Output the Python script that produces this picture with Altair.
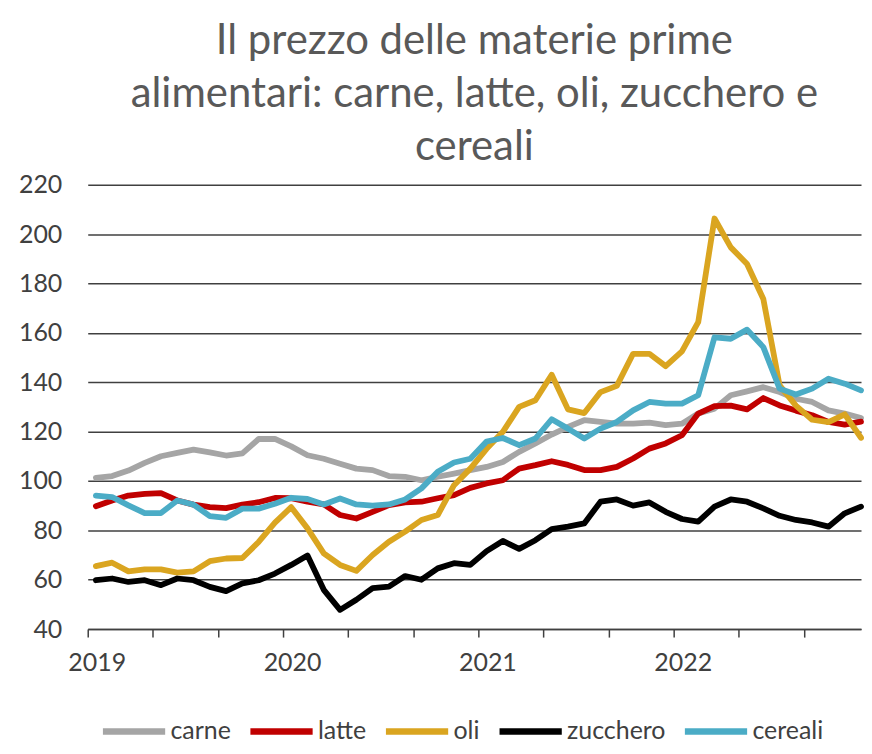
import altair as alt
import pandas as pd

series_names = ["carne", "latte", "oli", "zucchero", "cereali"]
series_colors = ["#A5A5A5", "#C00000", "#DAA520", "#000000", "#4BACC6"]

# Monthly values, Jan 2019 .. Dec 2022
carne = [101.3, 102.0, 104.2, 107.3, 110.0, 111.4, 112.7, 111.6, 110.3, 111.2, 117.0, 117.0,
         114.0, 110.4, 109.0, 107.0, 105.0, 104.4, 102.0, 101.7, 100.3, 101.7, 103.0, 104.4,
         105.7, 107.7, 111.8, 115.2, 118.8, 121.9, 124.6, 123.9, 123.2, 123.2, 123.6, 122.6,
         123.2, 127.3, 129.3, 134.7, 136.3, 138.0, 136.0, 133.3, 132.0, 128.6, 127.3, 125.5]
latte = [89.8, 92.1, 94.1, 94.8, 95.1, 92.1, 90.4, 89.4, 89.0, 90.4, 91.4, 93.1,
         93.0, 91.6, 90.5, 86.2, 84.8, 87.5, 90.2, 91.3, 91.6, 93.0, 94.3, 97.2,
         99.0, 100.3, 105.0, 106.4, 108.0, 106.5, 104.4, 104.4, 105.7, 109.1, 113.1, 115.2,
         118.5, 127.3, 130.3, 130.5, 129.0, 133.6, 130.6, 128.5, 126.6, 123.9, 122.8, 124.0]
oli = [65.5, 66.9, 63.4, 64.2, 64.2, 62.9, 63.4, 67.5, 68.6, 68.8, 75.3, 83.1,
       89.4, 80.8, 70.7, 66.0, 63.6, 70.0, 75.4, 79.5, 84.2, 86.2, 98.3, 105.0,
       113.0, 119.9, 130.0, 132.7, 143.0, 129.0, 127.5, 136.0, 138.5, 151.5, 151.5, 146.5,
       152.5, 164.3, 206.3, 194.6, 187.9, 173.7, 138.7, 130.5, 124.8, 123.8, 127.0, 117.5]
zucchero = [59.8, 60.5, 59.1, 59.8, 57.8, 60.5, 59.8, 57.1, 55.4, 58.5, 59.8, 62.5,
            66.0, 69.8, 55.9, 47.8, 51.9, 56.6, 57.2, 61.5, 60.0, 64.6, 66.7, 66.0,
            71.6, 75.7, 72.5, 76.0, 80.5, 81.5, 82.8, 91.6, 92.5, 90.0, 91.3, 87.5,
            84.6, 83.5, 89.6, 92.5, 91.6, 88.9, 85.9, 84.2, 83.2, 81.5, 86.9, 89.6]
cereali = [94.1, 93.5, 90.1, 87.0, 87.0, 92.1, 90.4, 85.8, 85.1, 88.8, 88.8, 90.8,
           93.2, 92.7, 90.5, 92.9, 90.5, 90.0, 90.5, 92.5, 97.0, 103.7, 107.5, 109.0,
           116.0, 117.4, 114.5, 117.2, 125.0, 121.2, 117.2, 121.2, 123.9, 128.6, 132.0, 131.3,
           131.3, 134.7, 158.2, 157.6, 161.3, 154.2, 137.4, 135.0, 137.4, 141.4, 139.4, 136.7]

year_labels = ["2019", "2020", "2021", "2022"]
y_ticks = [40, 60, 80, 100, 120, 140, 160, 180, 200, 220]

all_series = [carne, latte, oli, zucchero, cereali]
rows = []
for name, vals in zip(series_names, all_series):
    for i, v in enumerate(vals):
        rows.append({"serie": name, "t": i + 0.5, "valore": v})
df = pd.DataFrame(rows)

label_expr = ("datum.value % 12 == 0 ? ['" + "','".join(year_labels) +
              "'][datum.value / 12] : ''")

chart = alt.Chart(df).mark_line(strokeWidth=5.8, strokeJoin="round", strokeCap="round").encode(
    x=alt.X("t:Q",
            scale=alt.Scale(domain=[0, 47.5], nice=False, zero=False),
            axis=alt.Axis(values=list(range(0, 48, 4)), labelExpr=label_expr, title=None,
                          grid=False, domain=True, domainColor="#404040", domainWidth=1.5,
                          ticks=True, tickSize=8, tickColor="#404040", tickWidth=1.5,
                          labelFont="Lato", labelFontSize=25, labelColor="#404040",
                          labelPadding=14, labelOffset=9, labelOverlap=False, labelFlush=False)),
    y=alt.Y("valore:Q",
            scale=alt.Scale(domain=[40, 220], nice=False, zero=False),
            axis=alt.Axis(values=y_ticks, title=None, domain=False, ticks=False, tickSize=0,
                          grid=True, gridColor="#404040", gridWidth=1.5,
                          labelFont="Lato", labelFontSize=25, labelColor="#404040",
                          labelPadding=26, minExtent=75, maxExtent=75)),
    color=alt.Color("serie:N",
                    scale=alt.Scale(domain=series_names, range=series_colors),
                    sort=series_names,
                    legend=alt.Legend(title=None, orient="none", legendX=12, legendY=533,
                                      direction="horizontal", symbolType="M-1,0H4.1",
                                      symbolSize=600, symbolStrokeWidth=6.5,
                                      labelFont="Lato", labelFontSize=25, labelColor="#404040",
                                      labelOffset=40, columnPadding=6)),
    order=alt.Order("t:Q"),
).properties(
    width=776,
    height=446,
    title=alt.TitleParams(
        text=["Il prezzo delle materie prime", "alimentari: carne, latte, oli, zucchero e", "cereali"],
        font="Lato", fontSize=42, fontWeight="normal", color="#595959",
        anchor="middle", lineHeight=53, offset=4),
    padding={"left": 5, "top": 11, "right": 0, "bottom": 0},
).configure_view(stroke=None)

chart.save("out.html", embed_options={"renderer": "svg", "actions": False})
